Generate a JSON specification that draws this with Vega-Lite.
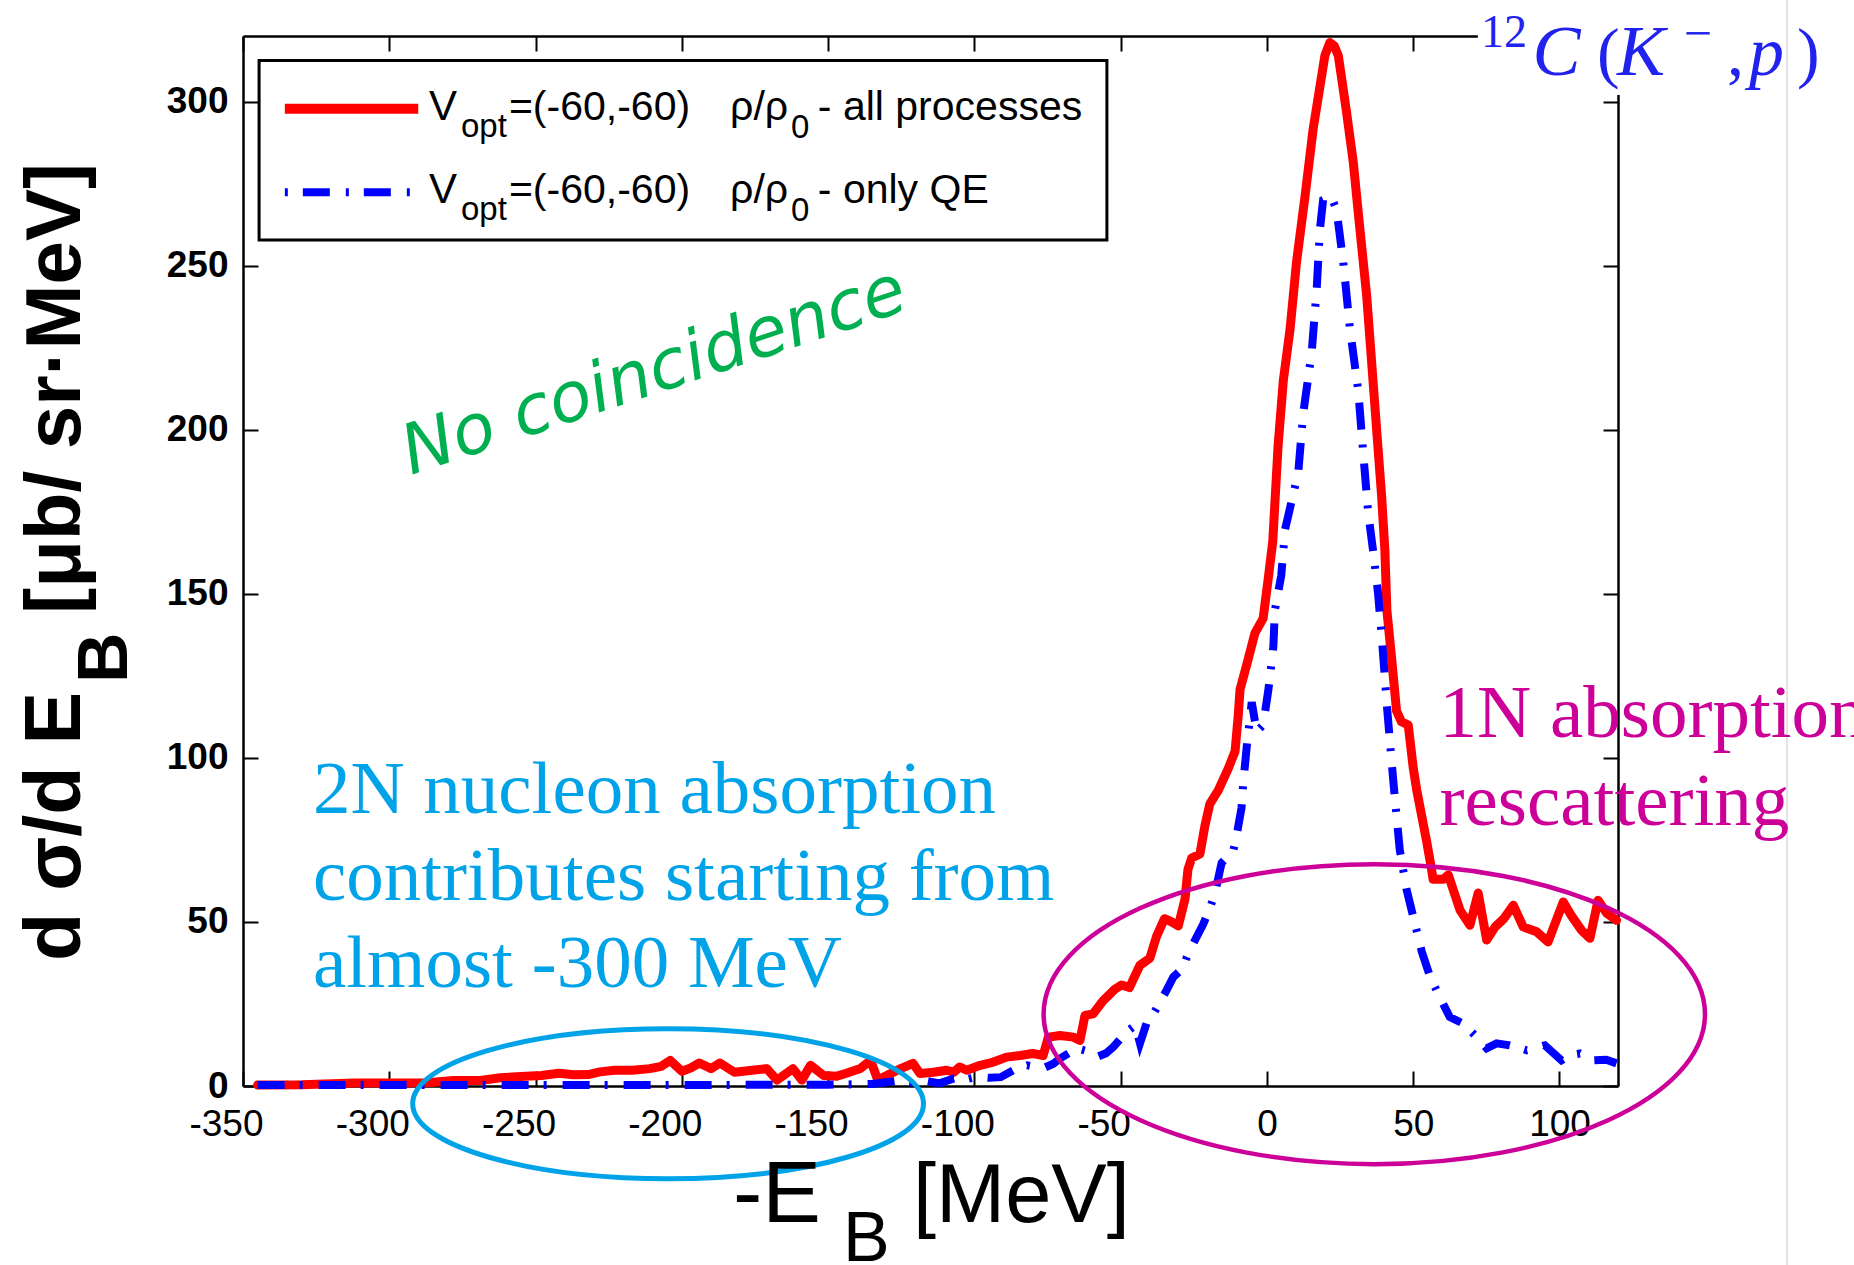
{
  "$schema": "https://vega.github.io/schema/vega-lite/v6.json",
  "width": 1375,
  "height": 1050,
  "autosize": {"type": "none"},
  "padding": {"left": 243, "top": 36, "right": 236, "bottom": 179},
  "background": "white",
  "config": {"view": {"stroke": null}},
  "data": {"values": [{}]},
  "datasets": {
    "red": [
      {"x":-345,"y":0.3},{"x":-330,"y":0.4},{"x":-312,"y":0.9},{"x":-300,"y":0.9},{"x":-287,"y":1.0},{"x":-278,"y":1.7},{"x":-269,"y":1.7},{"x":-262,"y":2.5},{"x":-255,"y":2.9},{"x":-248,"y":3.2},{"x":-242,"y":3.9},{"x":-237,"y":3.4},{"x":-232,"y":3.5},{"x":-228,"y":4.3},{"x":-223,"y":4.8},{"x":-217,"y":4.8},{"x":-211,"y":5.3},{"x":-207,"y":6.0},{"x":-204,"y":7.8},{"x":-200,"y":4.5},{"x":-197,"y":5.5},{"x":-194,"y":7.0},{"x":-190,"y":5.3},{"x":-187,"y":7.0},{"x":-182,"y":4.2},{"x":-176,"y":4.8},{"x":-171,"y":5.3},{"x":-167.5,"y":1.8},{"x":-162,"y":5.3},{"x":-159,"y":1.8},{"x":-156,"y":6.3},{"x":-151.5,"y":3.2},{"x":-147,"y":3.0},{"x":-144,"y":3.8},{"x":-139,"y":5.3},{"x":-135.5,"y":7.8},{"x":-133,"y":1.8},{"x":-128.6,"y":3.8},{"x":-125,"y":5.4},{"x":-121,"y":6.9},{"x":-118.6,"y":3.8},{"x":-114,"y":4.2},{"x":-109.5,"y":4.8},{"x":-107,"y":4.2},{"x":-105,"y":5.8},{"x":-102.6,"y":4.8},{"x":-98,"y":6.3},{"x":-93.5,"y":7.3},{"x":-89,"y":8.8},{"x":-84.4,"y":9.3},{"x":-80,"y":9.9},{"x":-76.5,"y":9.3},{"x":-74.7,"y":14.9},{"x":-70.7,"y":15.4},{"x":-66.2,"y":14.9},{"x":-63.9,"y":13.9},{"x":-62.2,"y":21.5},{"x":-59.4,"y":22},{"x":-56,"y":26},{"x":-52,"y":29.5},{"x":-49.7,"y":30.8},{"x":-47,"y":30},{"x":-45.7,"y":32.5},{"x":-43.4,"y":36.8},{"x":-40,"y":39},{"x":-37.7,"y":45.7},{"x":-35,"y":51},{"x":-32.6,"y":50},{"x":-30.3,"y":48.8},{"x":-28,"y":57},{"x":-27,"y":66},{"x":-25.7,"y":69.5},{"x":-22.9,"y":70.7},{"x":-21.2,"y":79.3},{"x":-19.5,"y":86},{"x":-16.6,"y":90.2},{"x":-13.2,"y":96.8},{"x":-10.9,"y":102},{"x":-9.8,"y":113},{"x":-9.2,"y":120.8},{"x":-6.9,"y":128.4},{"x":-4.1,"y":138},{"x":-1.3,"y":142.5},{"x":0.5,"y":155},{"x":2,"y":166},{"x":3.8,"y":195},{"x":5.6,"y":215},{"x":7.9,"y":230.6},{"x":10.1,"y":251},{"x":13,"y":271},{"x":15.8,"y":291.7},{"x":19.8,"y":314},{"x":21.5,"y":318},{"x":23,"y":317},{"x":24.4,"y":314},{"x":27.2,"y":296.9},{"x":29.5,"y":281.6},{"x":31.8,"y":261},{"x":34.1,"y":240.8},{"x":35.8,"y":220.5},{"x":37.5,"y":200},{"x":39.2,"y":179.8},{"x":40.3,"y":163.5},{"x":41,"y":145},{"x":42.6,"y":130.5},{"x":44.3,"y":114.3},{"x":46,"y":111},{"x":48.3,"y":110},{"x":50,"y":97},{"x":51.2,"y":90.2},{"x":53.4,"y":80},{"x":54.5,"y":75},{"x":56.3,"y":65.8},{"x":56.8,"y":63},{"x":60.3,"y":63},{"x":62,"y":64.3},{"x":66,"y":53.6},{"x":69.4,"y":49},{"x":72.2,"y":58.8},{"x":75.1,"y":44.5},{"x":78,"y":48.5},{"x":81,"y":51},{"x":84.2,"y":55.1},{"x":87.6,"y":48.5},{"x":92.2,"y":47},{"x":96.1,"y":43.9},{"x":101.3,"y":56.1},{"x":104,"y":52},{"x":107.5,"y":47.5},{"x":110.4,"y":45},{"x":113.2,"y":56.6},{"x":116.1,"y":52.7},{"x":119.5,"y":50.5}
    ],
    "blue": [
      {"x":-345,"y":0.3},{"x":-300,"y":0.3},{"x":-250,"y":0.3},{"x":-200,"y":0.3},{"x":-150,"y":0.4},{"x":-135,"y":0.6},{"x":-127,"y":1.5},{"x":-122,"y":1.0},{"x":-118,"y":1.8},{"x":-112,"y":0.8},{"x":-107,"y":2.3},{"x":-103,"y":2.0},{"x":-99,"y":2.8},{"x":-95,"y":2.5},{"x":-91,"y":2.7},{"x":-86.7,"y":4.8},{"x":-82,"y":6.3},{"x":-76.5,"y":5.4},{"x":-73,"y":6.8},{"x":-70.7,"y":8.4},{"x":-65,"y":11.5},{"x":-61,"y":10.5},{"x":-58.2,"y":8.8},{"x":-55,"y":10},{"x":-52.5,"y":11.9},{"x":-48,"y":16.5},{"x":-45,"y":18.5},{"x":-43.4,"y":13},{"x":-41,"y":19.5},{"x":-38.8,"y":22},{"x":-34.3,"y":29.2},{"x":-32,"y":33.2},{"x":-28.6,"y":36},{"x":-27.4,"y":39.3},{"x":-25.2,"y":43.4},{"x":-21.8,"y":49.3},{"x":-19.5,"y":54.2},{"x":-17.8,"y":58.6},{"x":-15.5,"y":68},{"x":-11.5,"y":71.7},{"x":-10.4,"y":76.2},{"x":-8.7,"y":84.7},{"x":-8.1,"y":92.4},{"x":-6.9,"y":103.4},{"x":-5.2,"y":117},{"x":-3.5,"y":108},{"x":-1.3,"y":110},{"x":0.5,"y":120.8},{"x":2.2,"y":133.9},{"x":2.7,"y":144.9},{"x":4.9,"y":155.6},{"x":6.2,"y":169.6},{"x":10.7,"y":187},{"x":12.4,"y":205},{"x":15.3,"y":223.6},{"x":17,"y":242.8},{"x":18.1,"y":261},{"x":19.2,"y":270},{"x":22,"y":271},{"x":23.8,"y":267},{"x":26.1,"y":251},{"x":28.4,"y":230.6},{"x":31.2,"y":212},{"x":32.9,"y":193},{"x":34.6,"y":174.8},{"x":36.3,"y":163},{"x":38,"y":150},{"x":39.5,"y":134},{"x":41,"y":116},{"x":42.6,"y":99},{"x":43.7,"y":88},{"x":45.4,"y":72},{"x":47.7,"y":60},{"x":50,"y":51.6},{"x":52.9,"y":41},{"x":55.7,"y":33.5},{"x":59.1,"y":27},{"x":62.5,"y":21},{"x":67.1,"y":19},{"x":71.7,"y":14.9},{"x":75.1,"y":11.5},{"x":78.5,"y":13},{"x":83,"y":12.4},{"x":88.8,"y":10.9},{"x":95,"y":12.4},{"x":100.7,"y":7.8},{"x":104,"y":9.5},{"x":107,"y":9.9},{"x":111.5,"y":7.8},{"x":116,"y":8},{"x":119.5,"y":6.9}
    ]
  },
  "resolve": {"axis": {"x": "independent", "y": "independent"}},
  "layer": [
    {
      "mark": {"type": "rule", "color": "#d9d9d9", "strokeWidth": 1.5},
      "encoding": {
        "x": {"datum": 177.8, "scale": {"domain": [-350, 120], "nice": false, "zero": false}, "axis": null},
        "y": {"datum": -54.6, "scale": {"domain": [0, 320], "nice": false, "zero": false}, "axis": null},
        "y2": {"datum": 331}
      }
    },
    {
      "data": {"name": "red"},
      "mark": {"type": "line", "color": "#ff0000", "strokeWidth": 9, "strokeJoin": "round", "strokeCap": "round"},
      "encoding": {
        "x": {"field": "x", "type": "quantitative", "scale": {"domain": [-350, 120], "nice": false, "zero": false},
          "axis": {"orient": "bottom", "values": [-350, -300, -250, -200, -150, -100, -50, 0, 50, 100], "title": null, "grid": false,
            "domainColor": "black", "domainWidth": 2.5, "tickColor": "black", "tickWidth": 2, "tickSize": -15,
            "labelFont": "Liberation Sans", "labelFontSize": 37, "labelColor": "black", "labelPadding": 35,
            "labelFlush": false, "labelOverlap": false, "labelBaseline": "top",
            "labelExpr": "datum.value < 0 ? '-' + abs(datum.value) : '' + datum.value",
            "labelOffset": {"condition": {"test": "datum.value < 0", "value": -17}, "value": 0}}},
        "y": {"field": "y", "type": "quantitative", "scale": {"domain": [0, 320], "nice": false, "zero": false},
          "axis": {"orient": "left", "values": [0, 50, 100, 150, 200, 250, 300], "title": null, "grid": false,
            "domainColor": "black", "domainWidth": 2.5, "tickColor": "black", "tickWidth": 2, "tickSize": -15,
            "labelFont": "Liberation Sans", "labelFontSize": 37, "labelFontWeight": "bold", "labelColor": "black", "labelPadding": 30,
            "labelFlush": false, "labelOverlap": false}}
      }
    },
    {
      "data": {"name": "blue"},
      "mark": {"type": "line", "color": "#0000ff", "strokeWidth": 8, "strokeDash": [27, 15, 3, 16], "strokeCap": "butt"},
      "encoding": {
        "x": {"field": "x", "type": "quantitative", "scale": {"domain": [-350, 120], "nice": false, "zero": false},
          "axis": {"orient": "top", "values": [-350, -300, -250, -200, -150, -100, -50, 0, 50, 100], "title": null, "grid": false,
            "domainColor": "black", "domainWidth": 2.5, "tickColor": "black", "tickWidth": 2, "tickSize": -15, "labels": false}},
        "y": {"field": "y", "type": "quantitative", "scale": {"domain": [0, 320], "nice": false, "zero": false},
          "axis": {"orient": "right", "values": [0, 50, 100, 150, 200, 250, 300], "title": null, "grid": false,
            "domainColor": "black", "domainWidth": 2.5, "tickColor": "black", "tickWidth": 2, "tickSize": -15, "labels": false}}
      }
    },
    {
      "mark": {"type": "rect", "fill": "white", "stroke": null},
      "encoding": {
        "x": {"datum": 72.1, "scale": {"domain": [-350, 120], "nice": false, "zero": false}, "axis": null},
        "x2": {"datum": 175},
        "y": {"datum": 302, "scale": {"domain": [0, 320], "nice": false, "zero": false}, "axis": null},
        "y2": {"datum": 335}
      }
    },
    {
      "mark": {"type": "point", "shape": "M1,0C1,0.1622 0.5523,0.2937 0,0.2937C-0.5523,0.2937 -1,0.1622 -1,0C-1,-0.1622 -0.5523,-0.2937 0,-0.2937C0.5523,-0.2937 1,-0.1622 1,0Z", "size": 260917, "filled": false, "color": "#00a2e8", "strokeWidth": 5, "opacity": 1},
      "encoding": {
        "x": {"datum": -204.7, "scale": {"domain": [-350, 120], "nice": false, "zero": false}, "axis": null},
        "y": {"datum": -5.4, "scale": {"domain": [0, 320], "nice": false, "zero": false}, "axis": null}
      }
    },
    {
      "mark": {"type": "point", "shape": "M1,0C1,0.2505 0.5523,0.4536 0,0.4536C-0.5523,0.4536 -1,0.2505 -1,0C-1,-0.2505 -0.5523,-0.4536 0,-0.4536C0.5523,-0.4536 1,-0.2505 1,0Z", "size": 437450, "filled": false, "color": "#cc0099", "strokeWidth": 4.5, "opacity": 1},
      "encoding": {
        "x": {"datum": 36.7, "scale": {"domain": [-350, 120], "nice": false, "zero": false}, "axis": null},
        "y": {"datum": 21.9, "scale": {"domain": [0, 320], "nice": false, "zero": false}, "axis": null}
      }
    },
    {
      "mark": {"type": "rect", "fill": "white", "stroke": "black", "strokeWidth": 3},
      "encoding": {
        "x": {"datum": -344.5, "scale": {"domain": [-350, 120], "nice": false, "zero": false}, "axis": null},
        "x2": {"datum": -54.7},
        "y": {"datum": 257.8, "scale": {"domain": [0, 320], "nice": false, "zero": false}, "axis": null},
        "y2": {"datum": 312.5}
      }
    },
    {
      "mark": {"type": "rule", "color": "#ff0000", "strokeWidth": 10},
      "encoding": {
        "x": {"datum": -335.7, "scale": {"domain": [-350, 120], "nice": false, "zero": false}, "axis": null},
        "x2": {"datum": -290.1},
        "y": {"datum": 297.8, "scale": {"domain": [0, 320], "nice": false, "zero": false}, "axis": null}
      }
    },
    {
      "mark": {"type": "rule", "color": "#0000ff", "strokeWidth": 8, "strokeDash": [3, 15, 27, 16]},
      "encoding": {
        "x": {"datum": -335.7, "scale": {"domain": [-350, 120], "nice": false, "zero": false}, "axis": null},
        "x2": {"datum": -292.2},
        "y": {"datum": 272.4, "scale": {"domain": [0, 320], "nice": false, "zero": false}, "axis": null}
      }
    },
    {"mark": {"type": "text", "text": "V", "font": "Liberation Sans", "fontSize": 42, "color": "black", "align": "left", "baseline": "alphabetic"},
     "encoding": {"x": {"datum": -286.4, "scale": {"domain": [-350, 120], "nice": false, "zero": false}, "axis": null}, "y": {"datum": 294.4, "scale": {"domain": [0, 320], "nice": false, "zero": false}, "axis": null}}},
    {"mark": {"type": "text", "text": "opt", "font": "Liberation Sans", "fontSize": 33, "color": "black", "align": "left", "baseline": "alphabetic"},
     "encoding": {"x": {"datum": -275.5, "scale": {"domain": [-350, 120], "nice": false, "zero": false}, "axis": null}, "y": {"datum": 289.2, "scale": {"domain": [0, 320], "nice": false, "zero": false}, "axis": null}}},
    {"mark": {"type": "text", "text": "=(-60,-60)", "font": "Liberation Sans", "fontSize": 41, "color": "black", "align": "left", "baseline": "alphabetic"},
     "encoding": {"x": {"datum": -259.1, "scale": {"domain": [-350, 120], "nice": false, "zero": false}, "axis": null}, "y": {"datum": 294.4, "scale": {"domain": [0, 320], "nice": false, "zero": false}, "axis": null}}},
    {"mark": {"type": "text", "text": "ρ/ρ", "font": "Liberation Sans", "fontSize": 41, "color": "black", "align": "left", "baseline": "alphabetic"},
     "encoding": {"x": {"datum": -183.5, "scale": {"domain": [-350, 120], "nice": false, "zero": false}, "axis": null}, "y": {"datum": 294.4, "scale": {"domain": [0, 320], "nice": false, "zero": false}, "axis": null}}},
    {"mark": {"type": "text", "text": "0", "font": "Liberation Sans", "fontSize": 33, "color": "black", "align": "left", "baseline": "alphabetic"},
     "encoding": {"x": {"datum": -162.7, "scale": {"domain": [-350, 120], "nice": false, "zero": false}, "axis": null}, "y": {"datum": 288.9, "scale": {"domain": [0, 320], "nice": false, "zero": false}, "axis": null}}},
    {"mark": {"type": "text", "text": "- all processes", "font": "Liberation Sans", "fontSize": 41, "color": "black", "align": "left", "baseline": "alphabetic"},
     "encoding": {"x": {"datum": -153.5, "scale": {"domain": [-350, 120], "nice": false, "zero": false}, "axis": null}, "y": {"datum": 294.4, "scale": {"domain": [0, 320], "nice": false, "zero": false}, "axis": null}}},
    {"mark": {"type": "text", "text": "V", "font": "Liberation Sans", "fontSize": 42, "color": "black", "align": "left", "baseline": "alphabetic"},
     "encoding": {"x": {"datum": -286.4, "scale": {"domain": [-350, 120], "nice": false, "zero": false}, "axis": null}, "y": {"datum": 269.1, "scale": {"domain": [0, 320], "nice": false, "zero": false}, "axis": null}}},
    {"mark": {"type": "text", "text": "opt", "font": "Liberation Sans", "fontSize": 33, "color": "black", "align": "left", "baseline": "alphabetic"},
     "encoding": {"x": {"datum": -275.5, "scale": {"domain": [-350, 120], "nice": false, "zero": false}, "axis": null}, "y": {"datum": 263.9, "scale": {"domain": [0, 320], "nice": false, "zero": false}, "axis": null}}},
    {"mark": {"type": "text", "text": "=(-60,-60)", "font": "Liberation Sans", "fontSize": 41, "color": "black", "align": "left", "baseline": "alphabetic"},
     "encoding": {"x": {"datum": -259.1, "scale": {"domain": [-350, 120], "nice": false, "zero": false}, "axis": null}, "y": {"datum": 269.1, "scale": {"domain": [0, 320], "nice": false, "zero": false}, "axis": null}}},
    {"mark": {"type": "text", "text": "ρ/ρ", "font": "Liberation Sans", "fontSize": 41, "color": "black", "align": "left", "baseline": "alphabetic"},
     "encoding": {"x": {"datum": -183.5, "scale": {"domain": [-350, 120], "nice": false, "zero": false}, "axis": null}, "y": {"datum": 269.1, "scale": {"domain": [0, 320], "nice": false, "zero": false}, "axis": null}}},
    {"mark": {"type": "text", "text": "0", "font": "Liberation Sans", "fontSize": 33, "color": "black", "align": "left", "baseline": "alphabetic"},
     "encoding": {"x": {"datum": -162.7, "scale": {"domain": [-350, 120], "nice": false, "zero": false}, "axis": null}, "y": {"datum": 263.6, "scale": {"domain": [0, 320], "nice": false, "zero": false}, "axis": null}}},
    {"mark": {"type": "text", "text": "- only QE", "font": "Liberation Sans", "fontSize": 41, "color": "black", "align": "left", "baseline": "alphabetic"},
     "encoding": {"x": {"datum": -153.5, "scale": {"domain": [-350, 120], "nice": false, "zero": false}, "axis": null}, "y": {"datum": 269.1, "scale": {"domain": [0, 320], "nice": false, "zero": false}, "axis": null}}},
    {"mark": {"type": "text", "text": "-E", "font": "Liberation Sans", "fontSize": 88, "color": "black", "align": "left", "baseline": "alphabetic"},
     "encoding": {"x": {"datum": -182.5, "scale": {"domain": [-350, 120], "nice": false, "zero": false}, "axis": null}, "y": {"datum": -41.4, "scale": {"domain": [0, 320], "nice": false, "zero": false}, "axis": null}}},
    {"mark": {"type": "text", "text": "B", "font": "Liberation Sans", "fontSize": 70, "color": "black", "align": "left", "baseline": "alphabetic"},
     "encoding": {"x": {"datum": -144.9, "scale": {"domain": [-350, 120], "nice": false, "zero": false}, "axis": null}, "y": {"datum": -53.2, "scale": {"domain": [0, 320], "nice": false, "zero": false}, "axis": null}}},
    {"mark": {"type": "text", "text": "[MeV]", "font": "Liberation Sans", "fontSize": 83, "color": "black", "align": "left", "baseline": "alphabetic"},
     "encoding": {"x": {"datum": -121, "scale": {"domain": [-350, 120], "nice": false, "zero": false}, "axis": null}, "y": {"datum": -41.4, "scale": {"domain": [0, 320], "nice": false, "zero": false}, "axis": null}}},
    {"mark": {"type": "text", "text": "d σ/d E", "font": "Liberation Sans", "fontWeight": "bold", "fontSize": 79, "color": "black", "align": "left", "baseline": "alphabetic", "angle": 270},
     "encoding": {"x": {"datum": -405.7, "scale": {"domain": [-350, 120], "nice": false, "zero": false}, "axis": null}, "y": {"datum": 38.1, "scale": {"domain": [0, 320], "nice": false, "zero": false}, "axis": null}}},
    {"mark": {"type": "text", "text": "B", "font": "Liberation Sans", "fontWeight": "bold", "fontSize": 70, "color": "black", "align": "left", "baseline": "alphabetic", "angle": 270},
     "encoding": {"x": {"datum": -389.7, "scale": {"domain": [-350, 120], "nice": false, "zero": false}, "axis": null}, "y": {"datum": 122.8, "scale": {"domain": [0, 320], "nice": false, "zero": false}, "axis": null}}},
    {"mark": {"type": "text", "text": "[μb/ sr·MeV]", "font": "Liberation Sans", "fontWeight": "bold", "fontSize": 78, "color": "black", "align": "left", "baseline": "alphabetic", "angle": 270},
     "encoding": {"x": {"datum": -405.7, "scale": {"domain": [-350, 120], "nice": false, "zero": false}, "axis": null}, "y": {"datum": 143.9, "scale": {"domain": [0, 320], "nice": false, "zero": false}, "axis": null}}},
    {"mark": {"type": "text", "text": "No coincidence", "font": "DejaVu Sans", "fontStyle": "italic", "fontSize": 69, "color": "#00b050", "align": "left", "baseline": "alphabetic", "angle": 341.6},
     "encoding": {"x": {"datum": -292.6, "scale": {"domain": [-350, 120], "nice": false, "zero": false}, "axis": null}, "y": {"datum": 186.2, "scale": {"domain": [0, 320], "nice": false, "zero": false}, "axis": null}}},
    {"mark": {"type": "text", "text": ["2N nucleon absorption", "contributes starting from", "almost -300 MeV"], "lineHeight": 87, "font": "Liberation Serif", "fontSize": 75, "color": "#00a2e8", "align": "left", "baseline": "alphabetic"},
     "encoding": {"x": {"datum": -326.1, "scale": {"domain": [-350, 120], "nice": false, "zero": false}, "axis": null}, "y": {"datum": 83.2, "scale": {"domain": [0, 320], "nice": false, "zero": false}, "axis": null}}},
    {"mark": {"type": "text", "text": ["1N absorption", "rescattering"], "lineHeight": 88, "font": "Liberation Serif", "fontSize": 75, "color": "#cc0099", "align": "left", "baseline": "alphabetic"},
     "encoding": {"x": {"datum": 59.0, "scale": {"domain": [-350, 120], "nice": false, "zero": false}, "axis": null}, "y": {"datum": 106.4, "scale": {"domain": [0, 320], "nice": false, "zero": false}, "axis": null}}},
    {"mark": {"type": "text", "text": "12", "font": "Liberation Serif", "fontSize": 46, "color": "#2222ee", "align": "left", "baseline": "alphabetic"},
     "encoding": {"x": {"datum": 73.2, "scale": {"domain": [-350, 120], "nice": false, "zero": false}, "axis": null}, "y": {"datum": 316.7, "scale": {"domain": [0, 320], "nice": false, "zero": false}, "axis": null}}},
    {"mark": {"type": "text", "text": "C", "font": "Liberation Serif", "fontStyle": "italic", "fontSize": 72, "color": "#2222ee", "align": "left", "baseline": "alphabetic"},
     "encoding": {"x": {"datum": 90.8, "scale": {"domain": [-350, 120], "nice": false, "zero": false}, "axis": null}, "y": {"datum": 308.1, "scale": {"domain": [0, 320], "nice": false, "zero": false}, "axis": null}}},
    {"mark": {"type": "text", "text": "(", "font": "Liberation Serif", "fontSize": 68, "color": "#2222ee", "align": "left", "baseline": "alphabetic"},
     "encoding": {"x": {"datum": 112.8, "scale": {"domain": [-350, 120], "nice": false, "zero": false}, "axis": null}, "y": {"datum": 308.1, "scale": {"domain": [0, 320], "nice": false, "zero": false}, "axis": null}}},
    {"mark": {"type": "text", "text": "K", "font": "Liberation Serif", "fontStyle": "italic", "fontSize": 72, "color": "#2222ee", "align": "left", "baseline": "alphabetic"},
     "encoding": {"x": {"datum": 119.7, "scale": {"domain": [-350, 120], "nice": false, "zero": false}, "axis": null}, "y": {"datum": 308.1, "scale": {"domain": [0, 320], "nice": false, "zero": false}, "axis": null}}},
    {"mark": {"type": "text", "text": "−", "font": "Liberation Serif", "fontSize": 50, "color": "#2222ee", "align": "left", "baseline": "alphabetic"},
     "encoding": {"x": {"datum": 142.5, "scale": {"domain": [-350, 120], "nice": false, "zero": false}, "axis": null}, "y": {"datum": 315.8, "scale": {"domain": [0, 320], "nice": false, "zero": false}, "axis": null}}},
    {"mark": {"type": "text", "text": ",", "font": "Liberation Serif", "fontSize": 68, "color": "#2222ee", "align": "left", "baseline": "alphabetic"},
     "encoding": {"x": {"datum": 157.3, "scale": {"domain": [-350, 120], "nice": false, "zero": false}, "axis": null}, "y": {"datum": 308.1, "scale": {"domain": [0, 320], "nice": false, "zero": false}, "axis": null}}},
    {"mark": {"type": "text", "text": "p", "font": "Liberation Serif", "fontStyle": "italic", "fontSize": 70, "color": "#2222ee", "align": "left", "baseline": "alphabetic"},
     "encoding": {"x": {"datum": 164.8, "scale": {"domain": [-350, 120], "nice": false, "zero": false}, "axis": null}, "y": {"datum": 308.1, "scale": {"domain": [0, 320], "nice": false, "zero": false}, "axis": null}}},
    {"mark": {"type": "text", "text": ")", "font": "Liberation Serif", "fontSize": 68, "color": "#2222ee", "align": "left", "baseline": "alphabetic"},
     "encoding": {"x": {"datum": 181.2, "scale": {"domain": [-350, 120], "nice": false, "zero": false}, "axis": null}, "y": {"datum": 308.1, "scale": {"domain": [0, 320], "nice": false, "zero": false}, "axis": null}}}
  ]
}
